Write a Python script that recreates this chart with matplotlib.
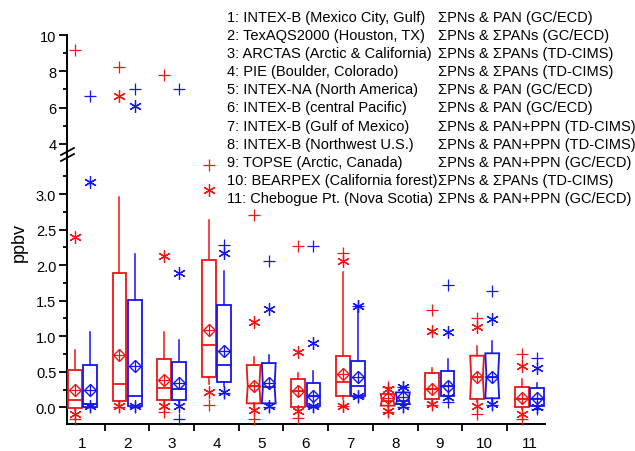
import numpy as np
import matplotlib.pyplot as plt
from matplotlib.patches import Polygon
from matplotlib.lines import Line2D

plt.rcParams["font.family"] = ["Liberation Sans", "DejaVu Sans"]

# campaigns (x categories)
categories = ["1", "2", "3", "4", "5", "6", "7", "8", "9", "10", "11"]
campaigns = ["1: INTEX-B (Mexico City, Gulf)", "2: TexAQS2000 (Houston, TX)",
             "3: ARCTAS (Arctic & California)", "4: PIE (Boulder, Colorado)",
             "5: INTEX-NA (North America)", "6: INTEX-B (central Pacific)",
             "7: INTEX-B (Gulf of Mexico)", "8: INTEX-B (Northwest U.S.)",
             "9: TOPSE (Arctic, Canada)", "10: BEARPEX (California forest)",
             "11: Chebogue Pt. (Nova Scotia)"]
methods = ["ΣPNs & PAN (GC/ECD)", "ΣPNs & ΣPANs (GC/ECD)", "ΣPNs & ΣPANs (TD-CIMS)",
           "ΣPNs & ΣPANs (TD-CIMS)", "ΣPNs & PAN (GC/ECD)", "ΣPNs & PAN (GC/ECD)",
           "ΣPNs & PAN+PPN (TD-CIMS)", "ΣPNs & PAN+PPN (TD-CIMS)", "ΣPNs & PAN+PPN (GC/ECD)",
           "ΣPNs & ΣPANs (TD-CIMS)", "ΣPNs & PAN+PPN (GC/ECD)"]

nan = np.nan

# red series (ppbv)
red_q1 = [-0.015, 0.084, 0.107, 0.42, 0.056, 0.01, 0.154, 0.023, 0.117, 0.117, 0.0]
red_med = [0.107, 0.328, 0.27, 0.877, 0.30, 0.225, 0.36, 0.094, 0.257, 0.43, 0.117]
red_q3 = [0.53, 1.886, 0.68, 2.073, 0.595, 0.398, 0.726, 0.187, 0.478, 0.726, 0.29]
red_wlo = [-0.05, 0.05, 0.05, 0.33, 0.0, -0.02, 0.12, 0.0, 0.08, 0.08, -0.03]
red_whi = [0.81, 2.955, 1.065, 2.636, 0.712, 0.483, 1.90, 0.234, 0.553, 0.867, 0.398]
red_mean = [0.25, 0.74, 0.39, 1.09, 0.30, 0.225, 0.469, 0.127, 0.26, 0.43, 0.127]
red_p01 = [-0.10, 0.023, 0.014, 0.21, -0.034, -0.047, 0.014, -0.047, 0.04, 0.023, -0.09]
red_p99 = [2.39, 6.62, 2.13, 3.06, 1.205, 0.783, 2.064, 0.258, 1.078, 1.126, 0.585]
red_min = [-0.16, 0.0, -0.07, 0.03, -0.165, -0.155, 0.014, -0.06, 0.03, -0.10, -0.16]
red_max = [9.2, 8.22, 7.8, 3.41, 2.707, 2.266, 2.17, 0.28, 1.374, 1.25, 0.75]
red_nlo = [nan, nan, nan, nan, 0.056, nan, nan, 0.023, nan, 0.117, nan]
red_nhi = [nan, nan, nan, nan, 0.595, nan, nan, 0.187, nan, 0.726, nan]

# blue series (ppbv)
blue_q1 = [0.01, 0.023, 0.107, 0.35, 0.056, 0.023, 0.163, 0.046, 0.154, 0.127, 0.023]
blue_med = [0.05, 0.163, 0.257, 0.60, 0.29, 0.163, 0.30, 0.094, 0.295, 0.43, 0.117]
blue_q3 = [0.60, 1.51, 0.64, 1.44, 0.623, 0.338, 0.647, 0.21, 0.506, 0.76, 0.267]
blue_wlo = [0.0, 0.01, 0.05, 0.30, 0.03, 0.01, 0.16, 0.03, 0.12, 0.08, 0.0]
blue_whi = [1.055, 2.158, 0.947, 1.914, 0.736, 0.515, 1.41, 0.25, 0.68, 0.94, 0.34]
blue_mean = [0.25, 0.585, 0.34, 0.79, 0.34, 0.16, 0.42, 0.14, 0.30, 0.43, 0.127]
blue_p01 = [0.015, 0.02, 0.014, 0.22, 0.014, 0.014, 0.154, 0.02, 0.15, 0.046, 0.0]
blue_p99 = [3.17, 6.07, 1.886, 2.17, 1.383, 0.90, 1.43, 0.28, 1.055, 1.243, 0.553]
blue_min = [0.0, 0.0, -0.165, 0.2, 0.0, 0.0, 0.15, 0.0, 0.08, 0.03, -0.02]
blue_max = [6.65, 7.02, 7.0, 2.285, 2.064, 2.266, 1.43, 0.28, 1.72, 1.64, 0.70]
blue_nlo = [nan, nan, nan, nan, 0.056, nan, nan, 0.046, nan, 0.127, nan]
blue_nhi = [nan, nan, nan, nan, 0.623, nan, nan, 0.21, nan, 0.76, nan]

RED = "#ee1515"
BLUE = "#1515ee"
BREAK = 3.5

W, H = 635, 452
fig = plt.figure(figsize=(W / 100, H / 100), dpi=100)


def fx(px):
    return px / W


def fy(py):
    return 1 - py / H


left, right = 66.7, 545
ax_lo = fig.add_axes([fx(left), fy(424.5), fx(right) - fx(left), fy(156) - fy(424.5)])
ax_hi = fig.add_axes([fx(left), fy(156), fx(right) - fx(left), fy(36) - fy(156)])


def draw_series(offset, color, q1, med, q3, wlo, whi, mean, p01, p99, vmin, vmax, nlo, nhi):
    hw = 0.155
    for i in range(len(categories)):
        x = i + 1 + offset
        inset = 0.0
        if np.isnan(nlo[i]):
            pts = [(x - hw, q1[i]), (x + hw, q1[i]), (x + hw, q3[i]), (x - hw, q3[i])]
        else:
            inset = hw * 0.16
            pts = [(x - hw, q1[i]), (x + hw, q1[i]), (x + hw, nlo[i]), (x + hw - inset, med[i]),
                   (x + hw, nhi[i]), (x + hw, q3[i]), (x - hw, q3[i]), (x - hw, nhi[i]),
                   (x - hw + inset, med[i]), (x - hw, nlo[i])]
        ax_lo.add_patch(Polygon(pts, closed=True, fill=False, edgecolor=color, lw=1.3, zorder=3))
        ax_lo.plot([x - hw + inset, x + hw - inset], [med[i], med[i]], color=color, lw=1.3, zorder=3)
        ax_lo.plot([x, x], [q3[i], whi[i]], color=color, lw=1.1, zorder=2)
        ax_lo.plot([x, x], [q1[i], wlo[i]], color=color, lw=1.1, zorder=2)
        ax_lo.plot([x], [mean[i]], marker="D", ms=6.5, mfc="none", mec=color, mew=1.0, zorder=4)
        ax_lo.plot([x], [mean[i]], marker="+", ms=9, mec=color, mew=0.9, zorder=4)
        for v, mk, ms in [(p01[i], (6, 2, 0), 9), (p99[i], (6, 2, 0), 9),
                          (vmin[i], "+", 8), (vmax[i], "+", 8)]:
            ax = ax_hi if v > BREAK else ax_lo
            ax.plot([x], [v], marker=mk, ms=ms, mec=color, mfc=color, mew=0.9, zorder=4,
                    clip_on=False)


draw_series(-0.17, RED, red_q1, red_med, red_q3, red_wlo, red_whi, red_mean,
            red_p01, red_p99, red_min, red_max, red_nlo, red_nhi)
draw_series(0.17, BLUE, blue_q1, blue_med, blue_q3, blue_wlo, blue_whi, blue_mean,
            blue_p01, blue_p99, blue_min, blue_max, blue_nlo, blue_nhi)

for ax in (ax_lo, ax_hi):
    ax.set_xlim(0.65, 11.35)
    ax.set_facecolor("none")
    ax.spines["top"].set_visible(False)
    ax.spines["right"].set_visible(False)
    ax.spines["left"].set_linewidth(1.4)
    ax.tick_params(axis="y", which="major", direction="out", length=5.5, width=1.3,
                   labelsize=10.5, pad=2)
    ax.tick_params(axis="y", which="minor", direction="out", length=3, width=1.3)

ax_hi.spines["bottom"].set_visible(False)
ax_hi.set_ylim(3.388, 10)
ax_hi.set_yticks([4, 6, 8, 10])
ax_hi.set_yticklabels(["4", "6", "8", "10"])
ax_hi.set_yticks([5, 7, 9], minor=True)
ax_hi.set_xticks([])

ax_lo.spines["bottom"].set_linewidth(1.4)
ax_lo.set_ylim(-0.228, 3.551)
ax_lo.set_yticks(np.arange(0, 3.01, 0.5))
ax_lo.set_yticklabels(["%.1f" % v for v in np.arange(0, 3.01, 0.5)])
ax_lo.set_yticks(np.arange(0.25, 3.3, 0.5), minor=True)
ax_lo.set_xticks(range(1, 12))
ax_lo.set_xticklabels(categories)
ax_lo.set_xticks(np.arange(1.5, 11, 1.0), minor=True)
ax_lo.tick_params(axis="x", which="major", length=0, labelsize=11, pad=9)
ax_lo.tick_params(axis="x", which="minor", direction="out", length=5, width=1.3)

# axis break marks
for dy in (0, 6):
    fig.add_artist(Line2D([fx(61), fx(74)], [fy(162 - dy), fy(155 - dy)],
                          color="black", lw=1.3))

fig.text(fx(19), fy(243), "ppbv", rotation=90, ha="center", va="center", fontsize=13)

for k in range(len(campaigns)):
    y = fy(18 + k * 18.1)
    fig.text(fx(227), y, campaigns[k], ha="left", va="center", fontsize=10.5)
    fig.text(fx(438), y, methods[k], ha="left", va="center", fontsize=10.5)

fig.savefig("out.png", dpi=100, facecolor="white")
